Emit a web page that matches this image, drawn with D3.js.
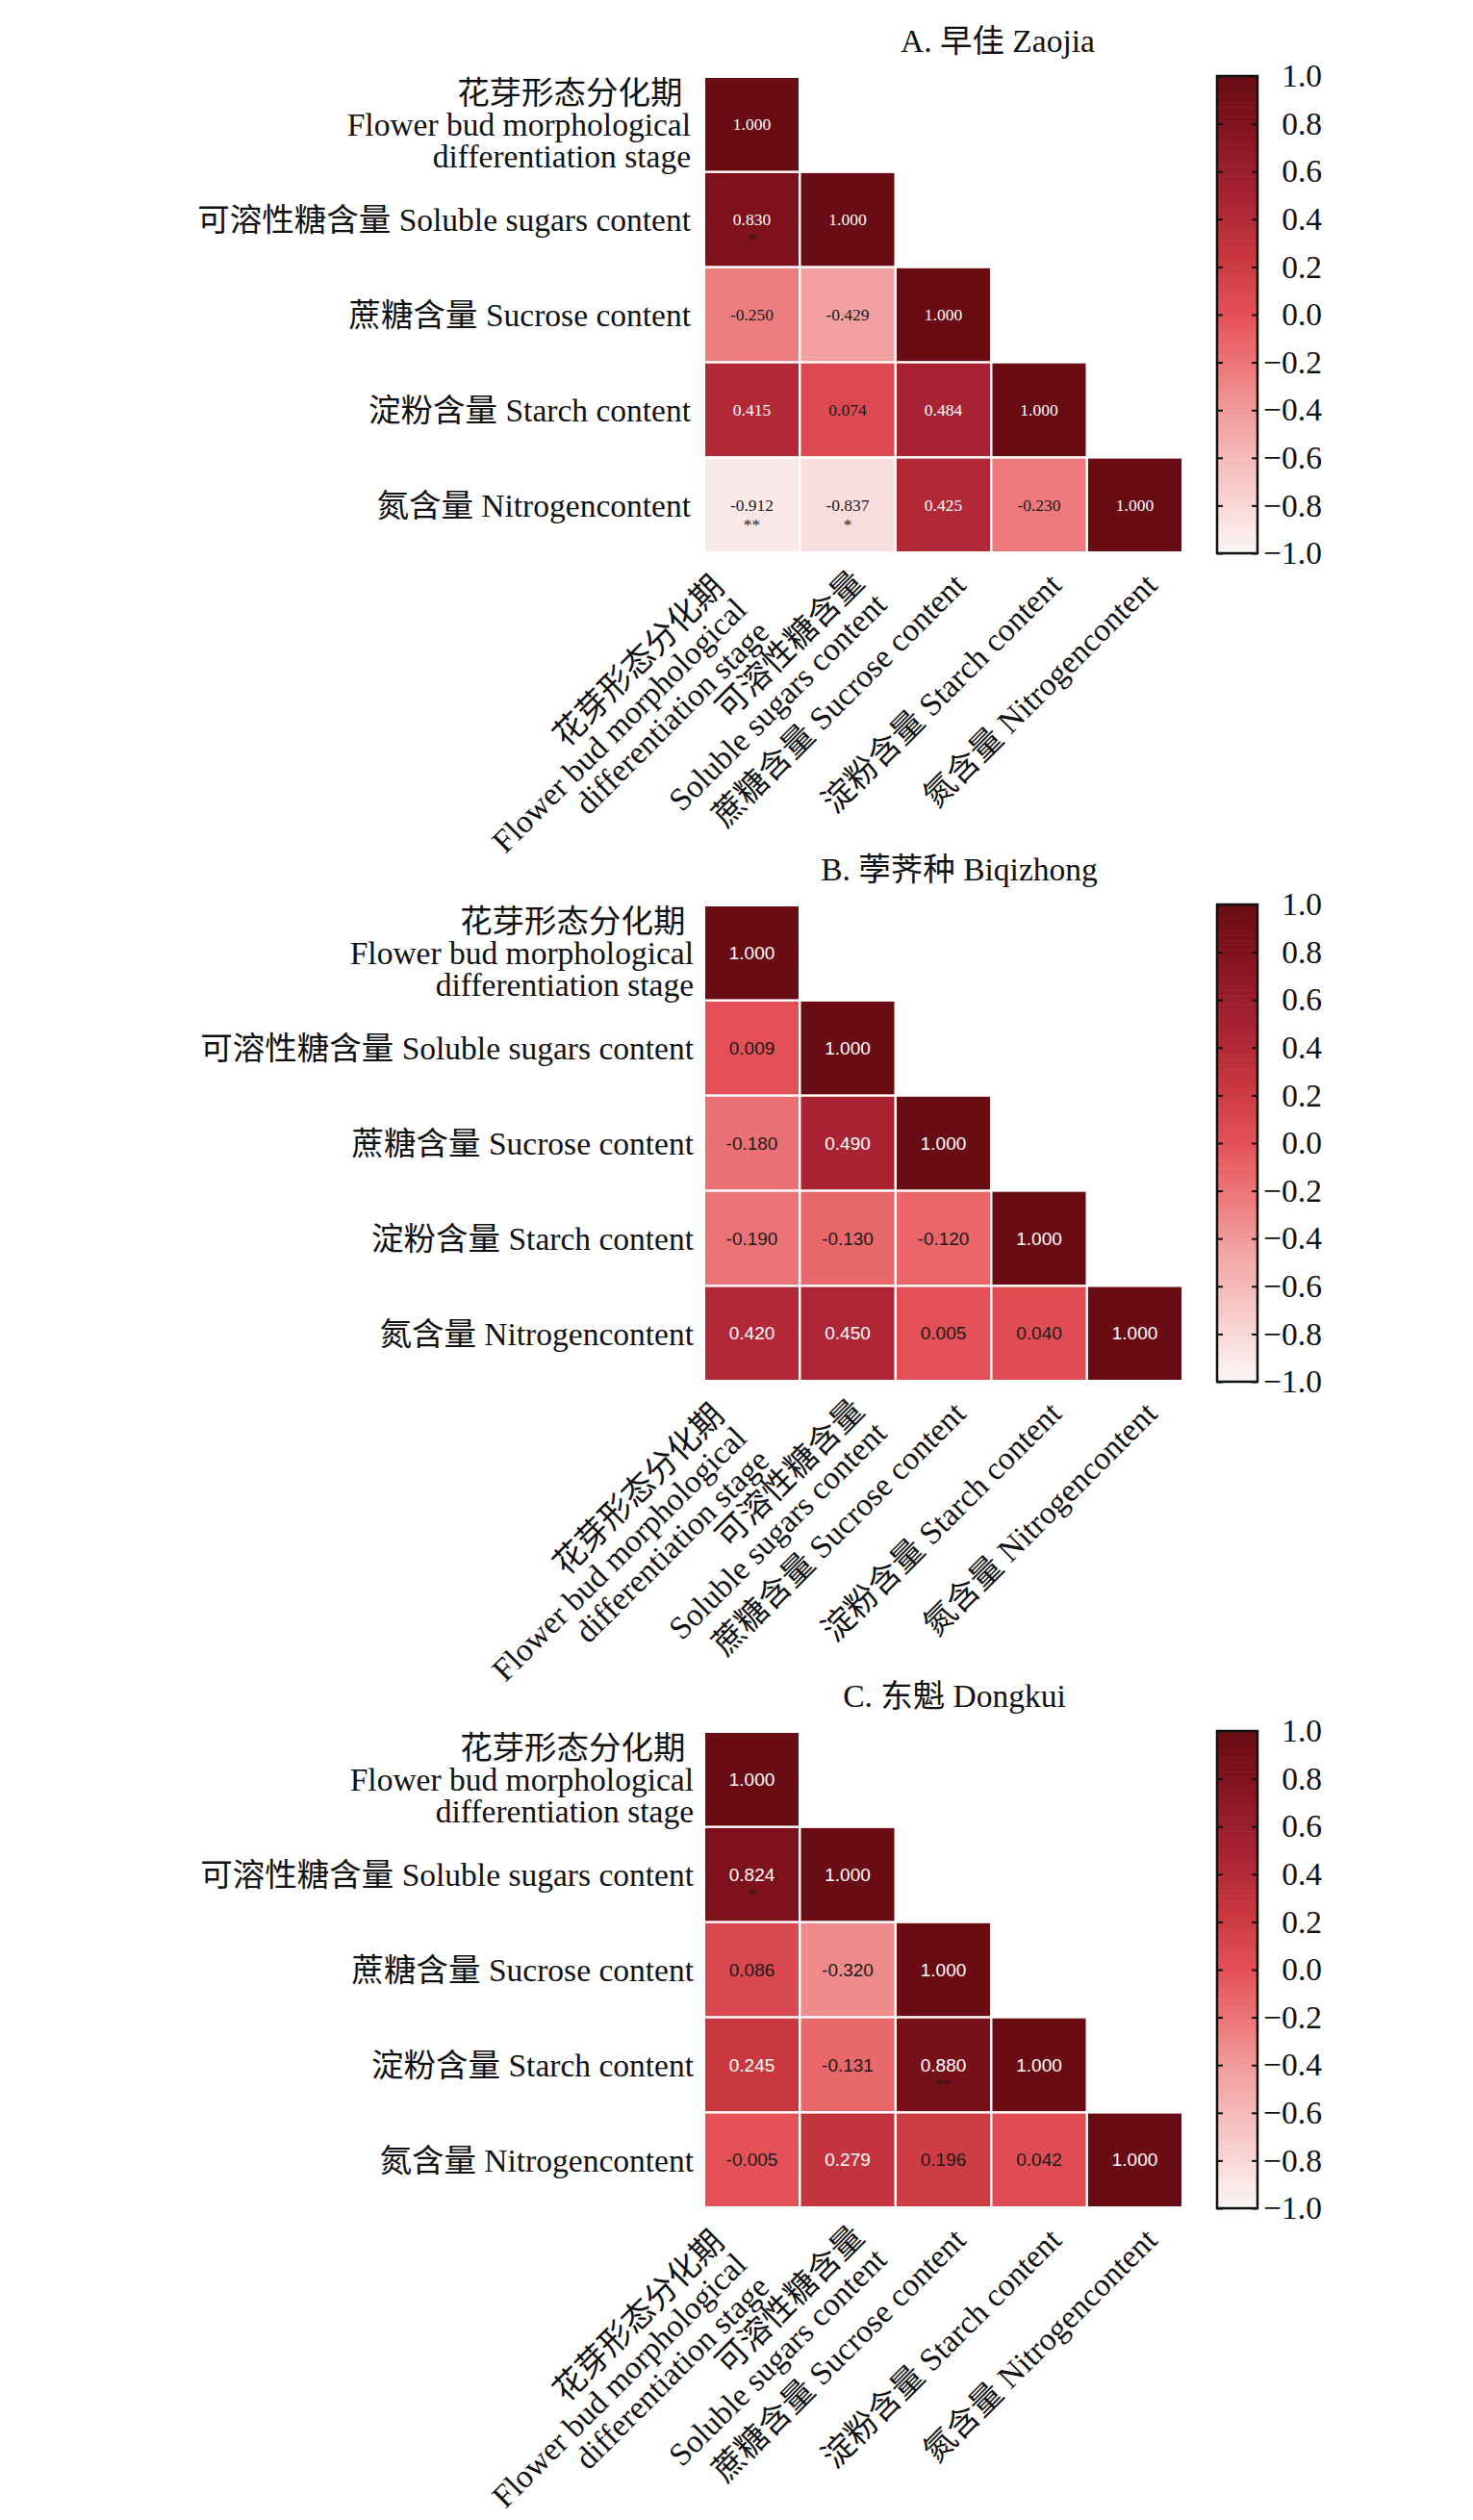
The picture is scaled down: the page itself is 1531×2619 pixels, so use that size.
<!DOCTYPE html>
<html>
<head>
<meta charset="utf-8">
<script src="https://cdn.jsdelivr.net/npm/d3@7"></script>
<style>
  body { margin: 0; background: #fff; }
  svg { display: block; }
</style>
</head>
<body>
<script>
// variable names, shared by every panel
const rowLabels = [
  ["花芽形态分化期 ", "Flower bud morphological", "differentiation stage"],
  ["可溶性糖含量 Soluble sugars content"],
  ["蔗糖含量 Sucrose content"],
  ["淀粉含量 Starch content"],
  ["氮含量 Nitrogencontent"]
];
const colLabels = [
  ["花芽形态分化期", "Flower bud morphological", "differentiation stage"],
  ["可溶性糖含量", "Soluble sugars content"],
  ["蔗糖含量 Sucrose content"],
  ["淀粉含量 Starch content"],
  ["氮含量 Nitrogencontent"]
];

// panel titles
const panelTitles = ["A. 早佳 Zaojia", "B. 荸荠种 Biqizhong", "C. 东魁 Dongkui"];

// correlation values (lower triangle, row by row)
const zaojiaR = [
  [1.000],
  [0.830, 1.000],
  [-0.250, -0.429, 1.000],
  [0.415, 0.074, 0.484, 1.000],
  [-0.912, -0.837, 0.425, -0.230, 1.000]
];
const zaojiaSig = [[""], ["*", ""], ["", "", ""], ["", "", "", ""], ["**", "*", "", "", ""]];

const biqizhongR = [
  [1.000],
  [0.009, 1.000],
  [-0.180, 0.490, 1.000],
  [-0.190, -0.130, -0.120, 1.000],
  [0.420, 0.450, 0.005, 0.040, 1.000]
];
const biqizhongSig = [[""], ["", ""], ["", "", ""], ["", "", "", ""], ["", "", "", "", ""]];

const dongkuiR = [
  [1.000],
  [0.824, 1.000],
  [0.086, -0.320, 1.000],
  [0.245, -0.131, 0.880, 1.000],
  [-0.005, 0.279, 0.196, 0.042, 1.000]
];
const dongkuiSig = [[""], ["*", ""], ["", "", ""], ["", "", "**", ""], ["", "", "", "", ""]];

// colour map stops
const cmapStops = [-1, -0.85, -0.43, -0.24, 0, 0.25, 0.5, 0.83, 1];
const cmapColors = ["#fdf6f6", "#fae0df", "#f2a0a0", "#ee7b7e", "#e45157", "#c8363f", "#a82233", "#7e111c", "#6a0c14"];

// colour bar ticks
const cbTicks = [-1, -0.8, -0.6, -0.4, -0.2, 0, 0.2, 0.4, 0.6, 0.8, 1];

const W = 1531, H = 2619;
const serif = "'Liberation Serif', 'Times New Roman', 'Noto Sans CJK SC', serif";
const sans = "'Liberation Sans', Arial, sans-serif";
const labelSize = 33.5, lineH = 33;

// where the first line of each rotated column label ends, relative to the column centre / heatmap bottom
const xLabelShift = [[-27, 39], [19, 34], [25, 37], [25, 37], [25, 37]];

const svg = d3.select("body").append("svg")
    .attr("width", W)
    .attr("height", H);

const color = d3.scaleLinear()
    .domain(cmapStops)
    .range(cmapColors)
    .interpolate(d3.interpolateRgb)
    .clamp(true);

const panels = [
    { title: panelTitles[0], r: zaojiaR, sig: zaojiaSig, top: 81, titleX: 1037, labelEnd: 718, cellFont: serif, cellSize: 17.5 },
    { title: panelTitles[1], r: biqizhongR, sig: biqizhongSig, top: 942, titleX: 997, labelEnd: 721, cellFont: sans, cellSize: 19 },
    { title: panelTitles[2], r: dongkuiR, sig: dongkuiSig, top: 1801, titleX: 992, labelEnd: 721, cellFont: sans, cellSize: 19 }
];

panels.forEach(p => drawPanel(p));

function drawPanel(p) {
    const g = svg.append("g");
    const n = rowLabels.length;
    const x = d3.scaleBand().domain(d3.range(n)).range([733, 1228]).paddingInner(0.025);
    const y = d3.scaleBand().domain(d3.range(n)).range([p.top, p.top + 492]).paddingInner(0.025);
    const bw = x.bandwidth(), bh = y.bandwidth();

    // title
    g.append("text")
        .attr("x", p.titleX)
        .attr("y", p.top - 39)
        .attr("dy", "0.35em")
        .attr("text-anchor", "middle")
        .style("font-family", serif)
        .style("font-size", labelSize + "px")
        .style("fill", "#111")
        .text(p.title);

    // cells
    const cells = [];
    p.r.forEach((row, i) => row.forEach((v, j) => cells.push({ i, j, v, s: p.sig[i][j] })));

    const cell = g.selectAll("g.cell")
        .data(cells)
        .enter().append("g")
        .attr("class", "cell");

    cell.append("rect")
        .attr("x", d => x(d.j))
        .attr("y", d => y(d.i))
        .attr("width", bw)
        .attr("height", bh)
        .style("fill", d => color(d.v));

    cell.append("text")
        .attr("x", d => x(d.j) + bw / 2)
        .attr("y", d => y(d.i) + bh / 2)
        .attr("dy", "0.35em")
        .attr("text-anchor", "middle")
        .style("font-family", p.cellFont)
        .style("font-size", p.cellSize + "px")
        .style("fill", d => d.v > 0.22 ? "#ffffff" : "#1a1a1a")
        .text(d => d.v.toFixed(3));

    cell.filter(d => d.s).append("text")
        .attr("x", d => x(d.j) + bw / 2)
        .attr("y", d => y(d.i) + bh / 2 + 20)
        .attr("dy", "0.35em")
        .attr("text-anchor", "middle")
        .style("font-family", serif)
        .style("font-size", "17.5px")
        .style("fill", "#2a1a1a")
        .text(d => d.s);

    // row labels
    rowLabels.forEach((lines, i) => {
        const cy = y(i) + bh / 2;
        lines.forEach((t, k) => {
            g.append("text")
                .attr("x", p.labelEnd)
                .attr("y", cy + (k - (lines.length - 1) / 2) * lineH)
                .attr("dy", "0.35em")
                .attr("text-anchor", "end")
                .style("white-space", "pre")
                .style("font-family", serif)
                .style("font-size", labelSize + "px")
                .style("fill", "#111")
                .text(t);
        });
    });

    // column labels, rotated 45 degrees, right-aligned lines
    const bottom = p.top + 492;
    colLabels.forEach((lines, j) => {
        const cx = x(j) + bw / 2;
        const lab = g.append("g")
            .attr("transform", `translate(${cx + xLabelShift[j][0]},${bottom + xLabelShift[j][1]}) rotate(-45)`);
        lines.forEach((t, k) => {
            lab.append("text")
                .attr("x", 0)
                .attr("y", k * lineH)
                .attr("text-anchor", "end")
                .style("font-family", serif)
                .style("font-size", labelSize + "px")
                .style("fill", "#111")
                .text(t);
        });
    });

    // colour bar
    const cbX = 1265, cbW = 42;
    const cbScale = d3.scaleLinear().domain([-1, 1]).range([p.top + 494, p.top - 2]);
    const steps = d3.range(-1, 1, 0.01);
    g.append("g").selectAll("rect")
        .data(steps)
        .enter().append("rect")
        .attr("x", cbX)
        .attr("y", d => cbScale(d + 0.01))
        .attr("width", cbW)
        .attr("height", d => cbScale(d) - cbScale(d + 0.01) + 0.6)
        .style("fill", d => color(d + 0.005));

    // inner ticks on the right edge, with labels
    const axR = g.append("g")
        .attr("transform", `translate(${cbX + cbW},0)`)
        .call(d3.axisRight(cbScale)
            .tickValues(cbTicks)
            .tickSizeInner(-6)
            .tickSizeOuter(0)
            .tickFormat(d => (d < 0 ? "\u2212" : "") + Math.abs(d).toFixed(1)));
    axR.select(".domain").remove();
    axR.selectAll(".tick line").attr("stroke", "#111").attr("stroke-width", 2);
    axR.selectAll(".tick text")
        .attr("x", 67)
        .attr("text-anchor", "end")
        .style("font-family", serif)
        .style("font-size", labelSize + "px")
        .style("fill", "#111");

    // inner ticks on the left edge
    const axL = g.append("g")
        .attr("transform", `translate(${cbX},0)`)
        .call(d3.axisLeft(cbScale)
            .tickValues(cbTicks)
            .tickSizeInner(-6)
            .tickSizeOuter(0)
            .tickFormat(""));
    axL.select(".domain").remove();
    axL.selectAll(".tick line").attr("stroke", "#111").attr("stroke-width", 2);

    g.append("rect")
        .attr("x", cbX)
        .attr("y", cbScale(1))
        .attr("width", cbW)
        .attr("height", cbScale(-1) - cbScale(1))
        .style("fill", "none")
        .style("stroke", "#111")
        .style("stroke-width", 2.5);
}
</script>
</body>
</html>
